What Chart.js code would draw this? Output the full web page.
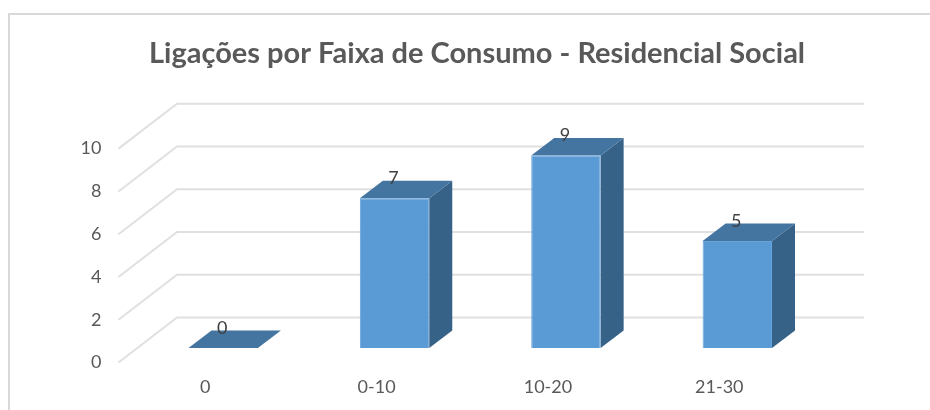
<!DOCTYPE html>
<html>
<head>
<meta charset="utf-8">
<style>
  body { margin: 0; background: #fff; }
  #frame { position: absolute; left: 8px; top: 13px; width: 922px; height: 397px;
           border-top: 2px solid #d9d9d9; border-left: 2px solid #d9d9d9; box-sizing: border-box; }
  canvas { position: absolute; left: 0; top: 0; }
</style>
<script src="https://cdn.jsdelivr.net/npm/chart.js@4"></script>
</head>
<body>
<div id="frame"></div>
<canvas id="chart" width="930" height="410"></canvas>
<script>
const titleText = 'Ligações por Faixa de Consumo - Residencial Social';
const categories = ['0', '0-10', '10-20', '21-30'];
const ligacoes = [0, 7, 9, 5];
const yTickMax = 10;

// fake 3d depth
const barDepth = { x: 23, y: 17.5 };
const wallDepth = { x: 58.5, y: 45 };
const wallLeft = 118.5;
const wallRight = 864;

function poly(ctx, pts, color) {
  ctx.beginPath();
  pts.forEach((p, i) => i ? ctx.lineTo(p[0], p[1]) : ctx.moveTo(p[0], p[1]));
  ctx.closePath();
  ctx.fillStyle = color;
  ctx.fill();
}

const fake3d = {
  id: 'fake3d',
  beforeDatasetsDraw(chart) {
    const ctx = chart.ctx;
    ctx.save();

    // gridlines: diagonal on the floor/side wall, then along the back wall
    ctx.strokeStyle = '#e0e0e0';
    ctx.lineWidth = 2;
    chart.scales.y.ticks.forEach(t => {
      const py = chart.scales.y.getPixelForValue(t.value);
      ctx.beginPath();
      ctx.moveTo(wallLeft, py);
      ctx.lineTo(wallLeft + wallDepth.x, py - wallDepth.y);
      ctx.lineTo(wallRight, py - wallDepth.y);
      ctx.stroke();
    });

    // top and side faces of the bars
    chart.getDatasetMeta(0).data.forEach(bar => {
      const l = bar.x - bar.width / 2;
      const r = bar.x + bar.width / 2;
      const dx = barDepth.x, dy = barDepth.y;
      if (bar.base - bar.y > 0) {
        poly(ctx, [[r, bar.y], [r + dx, bar.y - dy], [r + dx, bar.base - dy], [r, bar.base]], '#366288');
      }
      poly(ctx, [[l, bar.y], [l + dx, bar.y - dy], [r + dx, bar.y - dy], [r, bar.y]], '#4474a0');
    });
    ctx.restore();
  },
  afterDatasetsDraw(chart) {
    const ctx = chart.ctx;
    ctx.save();
    ctx.fillStyle = '#404040';
    ctx.font = '18px Lato';
    ctx.textAlign = 'center';
    ctx.textBaseline = 'middle';
    chart.getDatasetMeta(0).data.forEach((bar, i) => {
      ctx.fillText(ligacoes[i], bar.x - 1, bar.y - 20);
    });
    ctx.restore();
  }
};

new Chart(document.getElementById('chart'), {
  type: 'bar',
  data: {
    labels: categories,
    datasets: [{
      data: ligacoes,
      yAxisID: 'yBars',
      backgroundColor: '#5b9bd5',
      borderColor: '#68a3da',
      borderWidth: 1,
      barPercentage: 0.405,
      categoryPercentage: 1
    }]
  },
  plugins: [fake3d],
  options: {
    responsive: false,
    animation: false,
    layout: { padding: { left: 24 } },
    plugins: {
      legend: { display: false },
      tooltip: { enabled: false },
      title: {
        display: true,
        text: titleText,
        color: '#595959',
        font: { family: 'Lato', size: 29, weight: 'bold', lineHeight: 1.2 },
        padding: { top: 36, bottom: 33.9 }
      }
    },
    scales: {
      x: {
        grid: { display: false },
        border: { display: false },
        ticks: {
          color: '#595959',
          font: { family: 'Lato', size: 18 },
          labelOffset: -18,
          padding: 6,
          maxRotation: 0
        },
        afterFit(scale) { scale.height = 47.5; }
      },
      // labelled axis: front edge of the side wall
      y: {
        min: 0,
        max: 12.056,
        grid: { display: false },
        border: { display: false },
        ticks: {
          stepSize: 2,
          color: '#595959',
          font: { family: 'Lato', size: 18 },
          padding: 28
        },
        afterBuildTicks(scale) {
          scale.ticks = scale.ticks.filter(t => t.value <= yTickMax);
        },
        afterFit(scale) { scale.width = 113.5; }
      },
      // bars stand a bit further up on the floor, same units per pixel
      yBars: {
        position: 'right',
        min: -0.678,
        max: 11.378,
        grid: { display: false },
        border: { display: false },
        ticks: { display: false },
        afterFit(scale) { scale.width = 107; }
      }
    }
  }
});
</script>
</body>
</html>
